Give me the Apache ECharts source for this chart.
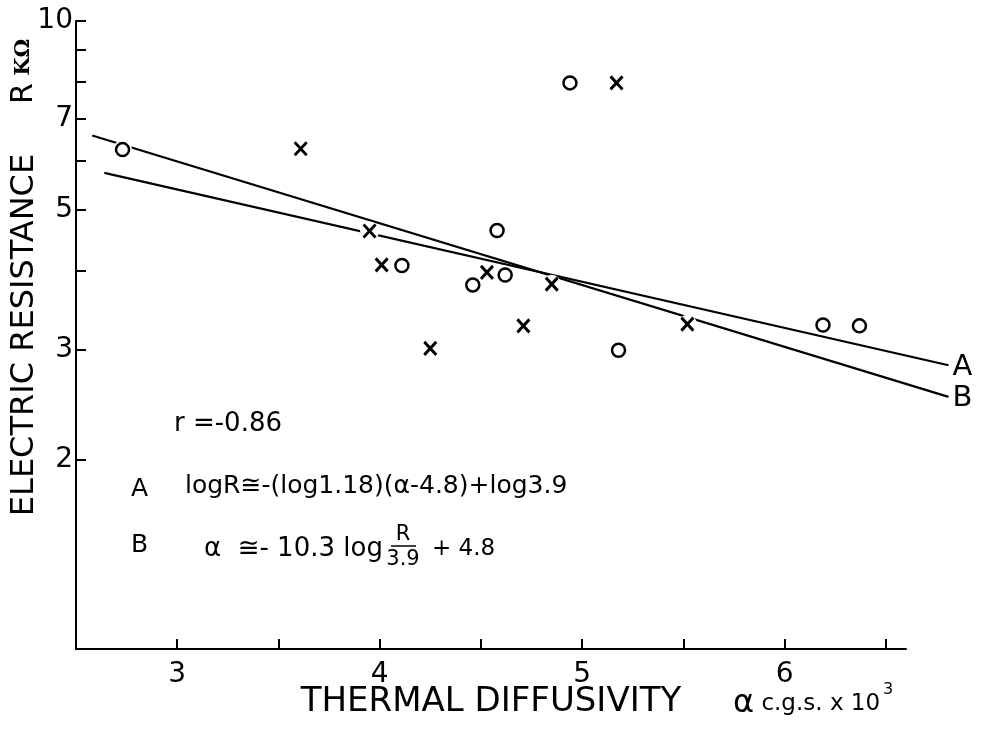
<!DOCTYPE html>
<html><head><meta charset="utf-8">
<script src="https://cdn.jsdelivr.net/npm/echarts@6/dist/echarts.min.js"></script>
<style>html,body{margin:0;padding:0;background:#fff}#c{width:982px;height:729px}</style>
</head><body><div id="c"></div>
<script>
// Data (x: thermal diffusivity a c.g.s. x10^3, y: R kΩ)
const circleX = [2.73, 4.94, 4.58, 4.11, 4.46, 4.62, 5.18, 6.19, 6.37];
const circleR = [6.24, 7.97, 4.64, 4.08, 3.80, 3.94, 2.99, 3.28, 3.27];
const crossX  = [3.61, 5.17, 3.95, 4.01, 4.53, 4.85, 4.71, 4.25, 5.52];
const crossR  = [6.26, 7.97, 4.63, 4.09, 3.98, 3.81, 3.27, 3.01, 3.29];
const lineAX = [2.64, 6.81];
const lineAR = [5.73, 2.83];
const lineBX = [2.58, 6.81];
const lineBR = [6.57, 2.52];
const lineNames = ['A', 'B'];
const xTicks = [3, 3.5, 4, 4.5, 5, 5.5, 6, 6.5];
const xLabels = [3, 4, 5, 6];
const yTicks = [2, 3, 4, 5, 6, 7, 8, 9, 10];
const yLabels = [2, 3, 5, 7, 10];

const FONT = '"DejaVu Sans", sans-serif';
const zip = (a, b) => a.map((v, i) => [v, b[i]]);
const allPts = zip(circleX, circleR).concat(zip(crossX, crossR));

// Regression line drawn through the axes' own scales (api.coord), not clipped at the axis end
function fitLine(name, xs, ys) {
  const pts = zip(xs, ys);
  return {
    name: name, type: 'custom', coordinateSystem: 'cartesian2d', clip: false, z: 2, silent: true,
    data: pts,
    renderItem: function (params, api) {
      if (params.dataIndex !== 0) return null;
      const px = pts.map(p => api.coord(p));
      const end = px[px.length - 1];
      return {
        type: 'group',
        children: [
          {type: 'polyline', shape: {points: px}, style: {stroke: '#000', lineWidth: 2.2, fill: null}},
          {type: 'text', x: end[0] + 4, y: end[1] + 2,
            style: {text: name, font: '29px ' + FONT, fill: '#000', textAlign: 'left', textVerticalAlign: 'middle'}}
        ]
      };
    }
  };
}

const chart = echarts.init(document.getElementById('c'), null, {renderer: 'canvas'});
chart.setOption({
  animation: false,
  backgroundColor: '#fff',
  grid: {left: 76, right: 76, top: 21, bottom: 80, containLabel: false, outerBoundsMode: 'none'},
  xAxis: {
    type: 'value', min: 2.5, max: 6.6,
    name: 'THERMAL DIFFUSIVITY', nameLocation: 'middle', nameGap: 36, nameMoveOverlap: false,
    nameTextStyle: {fontFamily: FONT, fontSize: 34, color: '#000'},
    axisLine: {show: true, onZero: false, lineStyle: {color: '#000', width: 2}},
    axisTick: {show: true, inside: true, length: 10, customValues: xTicks, lineStyle: {color: '#000', width: 2}},
    axisLabel: {customValues: xLabels, fontFamily: FONT, fontSize: 28, color: '#000', margin: 12},
    splitLine: {show: false}
  },
  yAxis: {
    type: 'log', logBase: 10, min: 1, max: 10,
    name: 'ELECTRIC RESISTANCE', nameLocation: 'middle', nameGap: 35, nameRotate: 90, nameMoveOverlap: false,
    nameTextStyle: {fontFamily: FONT, fontSize: 32, color: '#000'},
    axisLine: {show: true, onZero: false, lineStyle: {color: '#000', width: 2}},
    axisTick: {show: true, inside: true, length: 10, customValues: yTicks, lineStyle: {color: '#000', width: 2}},
    axisLabel: {customValues: yLabels, fontFamily: FONT, fontSize: 28, color: '#000', margin: 3},
    minorTick: {show: false},
    splitLine: {show: false}
  },
  series: [
    fitLine(lineNames[0], lineAX, lineAR),
    fitLine(lineNames[1], lineBX, lineBR),
    {
      name: 'halo', type: 'scatter', data: allPts, symbol: 'circle', symbolSize: 19, z: 3, silent: true,
      itemStyle: {color: '#fff', opacity: 1}
    },
    {
      name: 'o', type: 'scatter', data: zip(circleX, circleR), symbol: 'circle', symbolSize: 13, z: 4,
      itemStyle: {color: '#fff', borderColor: '#000', borderWidth: 2.5, opacity: 1}
    },
    {
      name: 'x', type: 'scatter', data: zip(crossX, crossR), symbol: 'path://M0,0L10,11M10,0L0,11', symbolSize: [12, 13], z: 4,
      itemStyle: {color: 'none', borderColor: '#000', borderWidth: 3, opacity: 1}
    }
  ],
  graphic: [
    {type: 'text', x: 24, y: 104, rotation: Math.PI / 2,
      style: {text: '{r|R}{k| KΩ}', textAlign: 'left', textVerticalAlign: 'middle', fill: '#000',
        rich: {r: {fontFamily: FONT, fontSize: 30, fill: '#000'}, k: {fontFamily: '"DejaVu Serif", serif', fontWeight: 'bold', fontSize: 21, fill: '#000'}}}},
    {type: 'text', x: 733, y: 704,
      style: {text: '{a|α}{b| c.g.s. x 10}', textVerticalAlign: 'middle', fill: '#000',
        rich: {a: {fontFamily: FONT, fontSize: 32, fill: '#000'}, b: {fontFamily: FONT, fontSize: 23, fill: '#000'}}}},
    {type: 'text', x: 883, y: 690, style: {text: '3', font: '16px ' + FONT, fill: '#000', textVerticalAlign: 'middle'}},
    {type: 'text', x: 174, y: 424, style: {text: 'r =-0.86', font: '26px ' + FONT, fill: '#000', textVerticalAlign: 'middle'}},
    {type: 'text', x: 131, y: 489, style: {text: 'A', font: '25px ' + FONT, fill: '#000', textVerticalAlign: 'middle'}},
    {type: 'text', x: 185, y: 486, style: {text: 'logR≅-(log1.18)(α-4.8)+log3.9', font: '25px ' + FONT, fill: '#000', textVerticalAlign: 'middle'}},
    {type: 'text', x: 131, y: 545, style: {text: 'B', font: '25px ' + FONT, fill: '#000', textVerticalAlign: 'middle'}},
    {type: 'text', x: 204, y: 549, style: {text: 'α  ≅- 10.3 log', font: '26px ' + FONT, fill: '#000', textVerticalAlign: 'middle'}},
    {type: 'text', x: 403, y: 535, style: {text: 'R', font: '21px ' + FONT, fill: '#000', textAlign: 'center', textVerticalAlign: 'middle'}},
    {type: 'line', shape: {x1: 391, y1: 546, x2: 416, y2: 546}, style: {stroke: '#000', lineWidth: 1.5}},
    {type: 'text', x: 403, y: 560, style: {text: '3.9', font: '21px ' + FONT, fill: '#000', textAlign: 'center', textVerticalAlign: 'middle'}},
    {type: 'text', x: 432, y: 549, style: {text: '+ 4.8', font: '23px ' + FONT, fill: '#000', textVerticalAlign: 'middle'}}
  ]
});
</script>
</body></html>
